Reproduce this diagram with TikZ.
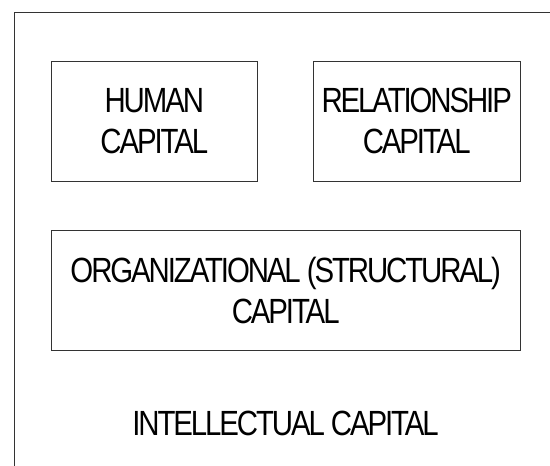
\documentclass[tikz,border=0pt]{standalone}
\usepackage{fontspec}
\setmainfont{Liberation Sans}[FakeStretch=0.84, LetterSpace=-6]
\begin{document}
\begin{tikzpicture}[x=1pt, y=-1pt,
    frame/.style={draw=black!80, line width=1pt},
    capbox/.style={frame, align=center, inner sep=0pt, font=\fontsize{35}{41}\selectfont}]
    \useasboundingbox (0,0) rectangle (550,466);

    % Outer frame (runs off to the right and bottom)
    % ---------------------
    \begin{scope}
      \clip (0,0) rectangle (550,466);
      \draw[frame] (14,12) rectangle (600,520);
    \end{scope}

    % Capital boxes
    % ---------------------
    \node[capbox, minimum width=206pt, minimum height=119.7pt] (human) at (154.3,121.2) {HUMAN\\CAPITAL};
    \node[capbox, minimum width=206.7pt, minimum height=119.7pt] (relation) at (416.7,121.2) {RELATIONSHIP\\CAPITAL};
    \node[capbox, minimum width=468.7pt, minimum height=120.4pt] (org) at (285.7,290.5) {ORGANIZATIONAL (STRUCTURAL)\\CAPITAL};

    \node[font=\fontsize{35}{41}\selectfont, inner sep=0pt] (ic) at (285.5,423) {INTELLECTUAL CAPITAL};
\end{tikzpicture}
\end{document}
